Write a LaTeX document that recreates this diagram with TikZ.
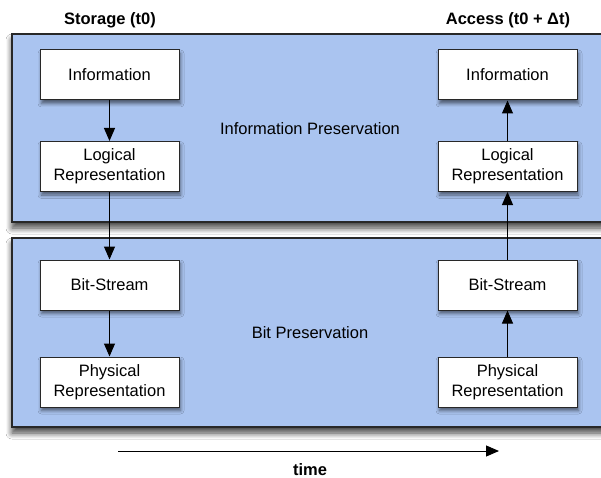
\documentclass[tikz,border=0pt]{standalone}
\usepackage{fontspec}
\setmainfont{Liberation Sans}
\usetikzlibrary{arrows.meta,shadows.blur}
\definecolor{panelblue}{RGB}{170,196,240}
\definecolor{edge}{RGB}{40,40,40}
\tikzset{
  panel/.style={draw=edge, line width=1.2pt, fill=panelblue,
    blur shadow={shadow xshift=0pt, shadow yshift=-6pt, shadow blur steps=8, shadow blur radius=6pt, shadow opacity=75}},
  stagebox/.style={draw=edge, line width=1pt, fill=white, minimum width=139pt, minimum height=50pt,
    align=center, inner sep=0pt, font=\fontsize{16.5}{20}\selectfont,
    blur shadow={shadow xshift=1.5pt, shadow yshift=-3.5pt, shadow blur steps=6, shadow blur radius=3.5pt, shadow opacity=55}},
  lbl/.style={font=\fontsize{16.5}{20}\selectfont},
  hdr/.style={font=\fontsize{16.5}{20}\selectfont\bfseries},
  flow/.style={line width=1pt, -{Triangle[width=11pt,length=13pt]}},
}
\begin{document}
\begin{tikzpicture}[x=1pt,y=-1pt]
\useasboundingbox (0,0) rectangle (601,478);
\fill[white] (0,0) rectangle (601,478);
\begin{scope}
\clip (0,0) rectangle (601,478);
\draw[panel] (12,34) rectangle (615,222);
\draw[panel] (12,238) rectangle (615,427);
\end{scope}

\node[hdr] (hs) at (110,20) {Storage (t0)};
\node[hdr] (ha) at (508,20) {Access (t0 + Δt)};

\node[lbl] (ip) at (310,129) {Information Preservation};
\node[lbl] (bp) at (310,333) {Bit Preservation};

\node[stagebox] (li) at (109.5,75) {Information};
\node[stagebox] (ll) at (109.5,166.5) {Logical\\Representation};
\node[stagebox] (lb) at (109.5,285) {Bit-Stream};
\node[stagebox] (lp) at (109.5,382) {Physical\\Representation};

\node[stagebox] (ri) at (507.5,75) {Information};
\node[stagebox] (rl) at (507.5,166.5) {Logical\\Representation};
\node[stagebox] (rb) at (507.5,285) {Bit-Stream};
\node[stagebox] (rp) at (507.5,382) {Physical\\Representation};

\draw[flow] (li) -- (ll);
\draw[flow] (ll) -- (lb);
\draw[flow] (lb) -- (lp);
\draw[flow] (rp) -- (rb);
\draw[flow] (rb) -- (rl);
\draw[flow] (rl) -- (ri);

\coordinate (t0) at (118,451);
\coordinate (t1) at (499,451);
\draw[flow] (t0) -- (t1);
\node[hdr] (tm) at (310,470) {time};
\end{tikzpicture}
\end{document}
